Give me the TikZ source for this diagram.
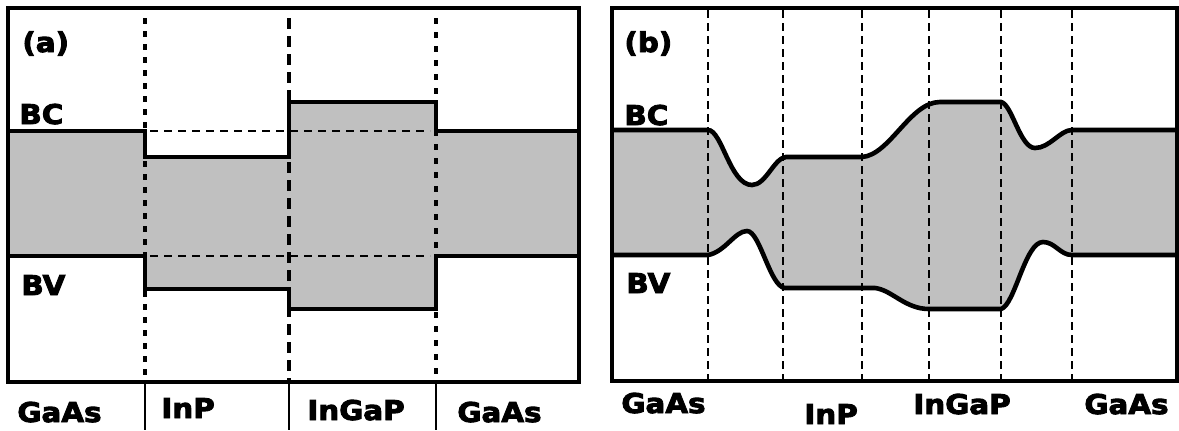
\documentclass[tikz,border=0pt]{standalone}
\usepackage{fontspec}
\newfontfamily\lblfont{DejaVu Sans}[FakeStretch=1.08,FakeBold=3.2]
\definecolor{bandgray}{RGB}{192,192,192}
\begin{document}
\begin{tikzpicture}[x=0.5pt,y=-0.5pt,line join=miter,
  lbl/.style={anchor=base west,inner sep=0pt,font=\lblfont\bfseries\fontsize{13.6}{16}\selectfont},
  bandline/.style={line width=2.3pt},
  framebox/.style={line width=2.4pt},
  refline/.style={line width=1.1pt,dash pattern=on 4pt off 3pt},
  divshort/.style={line width=2.2pt,dash pattern=on 3pt off 3.5pt},
  divlong/.style={line width=2.2pt,dash pattern=on 5.5pt off 3.5pt},
  divthird/.style={line width=2.2pt,dash pattern=on 3pt off 4pt},
  divb/.style={line width=1.25pt,dash pattern=on 4pt off 2.5pt},
  sepline/.style={line width=1.1pt}]
\useasboundingbox (0,0) rectangle (1179,430);

% ---------- panel (a) ----------
\fill[bandgray] (8,131) -- (145,131) -- (145,157) -- (289,157) -- (289,102) -- (436,102) -- (436,131) -- (579,131)
  -- (579,256) -- (436,256) -- (436,309) -- (289,309) -- (289,289) -- (145,289) -- (145,256) -- (8,256) -- cycle;
\draw[refline] (150,131) -- (430,131);
\draw[refline] (150,256) -- (430,256);
\draw[divshort] (145,18) -- (145,382);
\draw[divlong] (289,18) -- (289,382);
\draw[divthird] (436,18) -- (436,382);
\draw[bandline] (8,131) -- (145,131) -- (145,157) -- (289,157) -- (289,102) -- (436,102) -- (436,131) -- (579,131);
\draw[bandline] (8,256) -- (145,256) -- (145,289) -- (289,289) -- (289,309) -- (436,309) -- (436,256) -- (579,256);
\draw[framebox] (8,8) rectangle (579,382);
\draw[sepline] (145,382) -- (145,430);
\draw[sepline] (289,382) -- (289,430);
\draw[sepline] (436,382) -- (436,430);
\node[lbl] (tagA) at (22,52) {(a)};
\node[lbl] (bcA) at (19,124) {BC};
\node[lbl] (bvA) at (21,295) {BV};
\node[lbl] (gaasA1) at (17,422) {GaAs};
\node[lbl] (inpA) at (161,418) {InP};
\node[lbl] (ingapA) at (307,420) {InGaP};
\node[lbl] (gaasA2) at (457,422) {GaAs};

% ---------- panel (b) ----------
\begin{scope}
\clip (612,0) -- (612,255) -- (708,255) .. controls (725,252) and (735,231) .. (747,231)
  .. controls (760,231) and (770,287) .. (785,288) -- (875,288) .. controls (892,290) and (905,309) .. (929,309)
  -- (1001,309) .. controls (1015,305) and (1025,242) .. (1043,242) .. controls (1055,242) and (1060,255) .. (1072,255)
  -- (1179,255) -- (1179,0) -- cycle;
\fill[bandgray] (612,400) -- (612,130) -- (708,130) .. controls (722,130) and (730,185) .. (752,185)
  .. controls (766,185) and (774,158) .. (786,157) -- (862,157) .. controls (890,155) and (910,102) .. (940,102)
  -- (1001,102) .. controls (1012,104) and (1020,148) .. (1035,148) .. controls (1050,148) and (1060,130) .. (1072,130)
  -- (1179,130) -- (1179,400) -- cycle;
\end{scope}
\foreach \xx in {708,783,862,929,1001,1072} \draw[divb] (\xx,10) -- (\xx,381);
\draw[bandline] (612,130) -- (708,130) .. controls (722,130) and (730,185) .. (752,185)
  .. controls (766,185) and (774,158) .. (786,157) -- (862,157) .. controls (890,155) and (910,102) .. (940,102)
  -- (1001,102) .. controls (1012,104) and (1020,148) .. (1035,148) .. controls (1050,148) and (1060,130) .. (1072,130)
  -- (1178,130);
\draw[bandline] (612,255) -- (708,255) .. controls (725,252) and (735,231) .. (747,231)
  .. controls (760,231) and (770,287) .. (785,288) -- (875,288) .. controls (892,290) and (905,309) .. (929,309)
  -- (1001,309) .. controls (1015,305) and (1025,242) .. (1043,242) .. controls (1055,242) and (1060,255) .. (1072,255)
  -- (1178,255);
\draw[framebox] (612,8) rectangle (1177,381);
\node[lbl] (tagB) at (624,52) {(b)};
\node[lbl] (bcB) at (624,125) {BC};
\node[lbl] (bvB) at (626,293) {BV};
\node[lbl] (gaasB1) at (621,413) {GaAs};
\node[lbl] (inpB) at (804,424) {InP};
\node[lbl] (ingapB) at (913,414) {InGaP};
\node[lbl] (gaasB2) at (1084,414) {GaAs};
\end{tikzpicture}
\end{document}
